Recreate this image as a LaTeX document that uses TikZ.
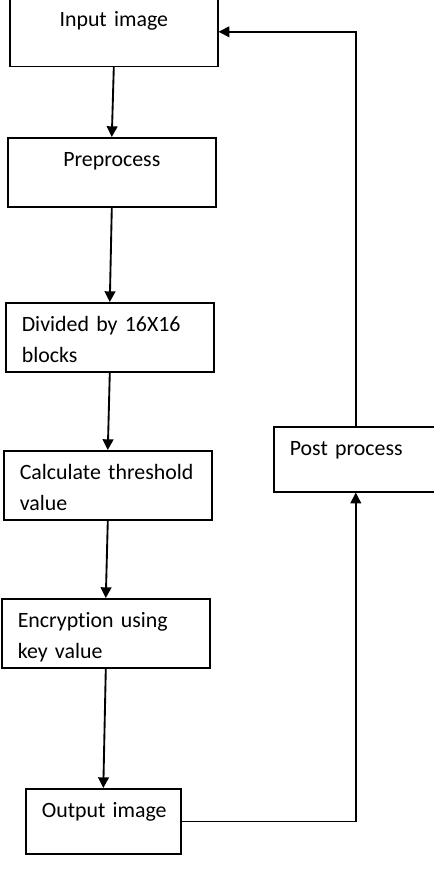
\documentclass[tikz,border=0pt]{standalone}
\usepackage{fontspec}
\setmainfont[Ligatures=NoCommon]{Carlito}
\usepackage{tikz}
\usetikzlibrary{arrows.meta}
\DeclareRobustCommand\boxfont{\fontsize{16.4}{23}\selectfont\spaceskip=0.19em\relax}

\begin{document}
\begin{tikzpicture}[
  x=0.75pt, y=-0.75pt,
  stagebox/.style={draw=black, line width=1.2pt, anchor=north west, inner ysep=0pt, inner xsep=12pt, text height=21.75pt, text depth=30pt, font=\boxfont},
  leftbox/.style={stagebox, align=left, text width=132pt},
  midbox/.style={stagebox, align=center, text width=132pt},
  flowarrow/.style={-{Triangle[length=8pt,width=8pt]}, line width=1.4pt},
  backarrow/.style={-{Triangle[length=8pt,width=8pt]}, line width=1.1pt}
]
\useasboundingbox (0,0) rectangle (434,872);

\node[midbox] (in) at (9,-3.5) {Input image};
\node[midbox] (pre) at (7,137) {Preprocess};
\node[leftbox] (div) at (5,302) {Divided by 16X16\\blocks};
\node[leftbox] (calc) at (3,450) {\mbox{Calculate threshold}\\value};
\node[leftbox] (enc) at (1,598) {Encryption using\\key value};
\node[stagebox, align=center, text width=92.25pt, text depth=27pt] (out) at (25,788) {\mbox{Output image}};
\node[stagebox, align=left, text width=99pt, text depth=27pt] (post) at (273,426) {Post process};

\draw[flowarrow] (in.south) -- (pre.north);
\draw[flowarrow] (pre.south) -- (div.north);
\draw[flowarrow] (div.south) -- (calc.north);
\draw[flowarrow] (calc.south) -- (enc.north);
\draw[flowarrow] (enc.south) -- (out.north);
\draw[backarrow] (out.east) -| (post.south);
\draw[backarrow] (post.north) |- (in.east);
\end{tikzpicture}
\end{document}
